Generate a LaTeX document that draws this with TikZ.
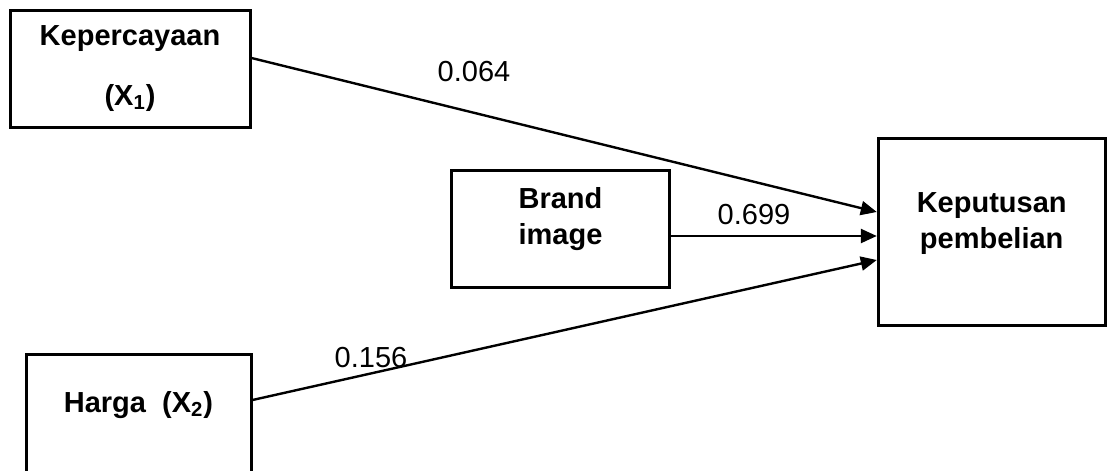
\documentclass[tikz,border=0pt]{standalone}
\usepackage{fontspec}
\setmainfont{Liberation Sans}
\usetikzlibrary{arrows.meta}

\begin{document}
\begin{tikzpicture}[x=0.5pt, y=-0.5pt,
    box/.style={draw, line width=1.5pt, align=center, font=\fontsize{14.5}{18}\selectfont\bfseries},
    path/.style={line width=1.2pt, -{Triangle[length=8pt, width=7pt]}},
    coef/.style={font=\fontsize{14.5}{18}\selectfont}]
      \useasboundingbox (0,0) rectangle (1108,471);
      % variables
      \node[box, minimum width=120pt, minimum height=58.5pt] (kep) at (130, 68.5) {Kepercayaan\\[12pt](X\textsubscript{1})};
      \node[box, minimum width=112.5pt, minimum height=60pt, text depth=12.5pt] (harga) at (138.5, 414) {Harga\ \ (X\textsubscript{2})};
      \node[box, minimum width=108.8pt, minimum height=58.4pt, text depth=13.5pt] (brand) at (560.5, 229.3) {Brand\\image};
      \node[box, minimum width=113.4pt, minimum height=93.5pt, text depth=11pt] (kpt) at (991.7, 231.5) {Keputusan\\pembelian};
      % paths
      \draw[path] ([yshift=5.25pt]kep.east) -- ([yshift=9.75pt]kpt.west);
      \draw[path] ([yshift=-3.35pt]brand.east) -- ([yshift=-2.25pt]kpt.west);
      \draw[path] ([yshift=7pt]harga.east) -- ([yshift=-14.25pt]kpt.west);
      % coefficients
      \node[coef] (c1) at (474, 72) {0.064};
      \node[coef] (c2) at (754, 215) {0.699};
      \node[coef] (c3) at (371, 358) {0.156};
    \end{tikzpicture}
\end{document}
